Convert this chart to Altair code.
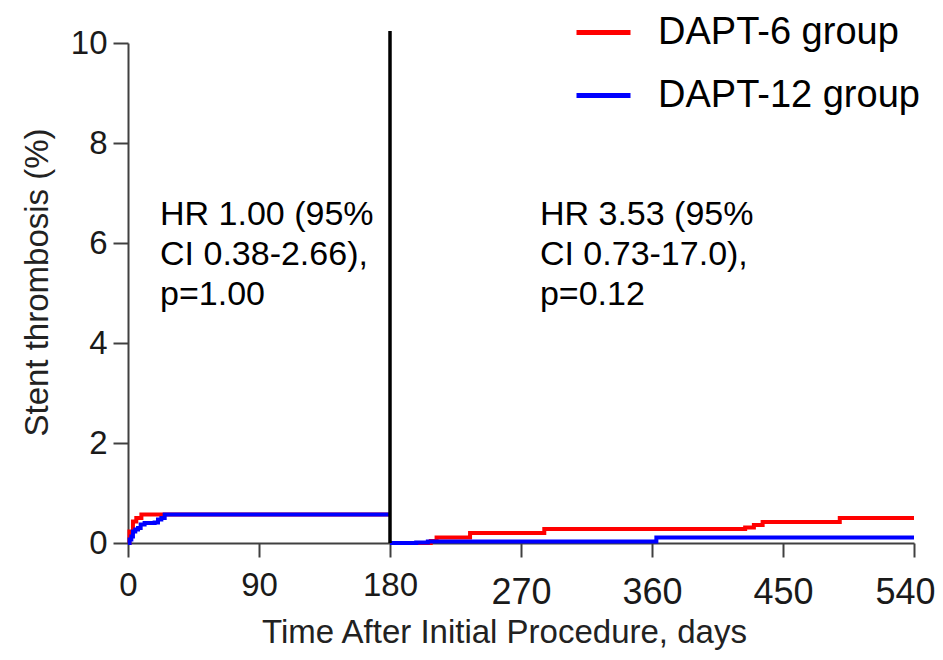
import altair as alt
import pandas as pd

# ---------------- data ----------------
groups = ["DAPT-6 group", "DAPT-12 group"]
colors = ["#ff0000", "#0000ff"]

x_ticks = [0, 90, 180, 270, 360, 450, 540]
y_ticks = [0, 2, 4, 6, 8, 10]

# 0-180 days (landmark segment 1)
red_s1_day = [0, 1, 3.4, 5.7, 9.2, 180]
red_s1_pct = [0, 0.23, 0.43, 0.50, 0.57, 0.57]
blue_s1_day = [0, 1.1, 2.3, 3.4, 5.0, 6.9, 8.7, 11.4, 18.3, 20.6, 22.9, 25.2, 180]
blue_s1_pct = [0, 0.07, 0.13, 0.23, 0.27, 0.30, 0.37, 0.40, 0.41, 0.47, 0.50, 0.57, 0.57]

# 180-540 days (landmark segment 2)
red_s2_day = [180, 208, 212, 235, 286, 424, 430, 436, 489, 540]
red_s2_pct = [0, 0.04, 0.11, 0.20, 0.28, 0.31, 0.36, 0.42, 0.50, 0.50]
blue_s2_day = [180, 198, 206, 363, 540]
blue_s2_pct = [0, 0.01, 0.03, 0.11, 0.11]

landmark_day = [180]
landmark_top = [10.24]

annot_day = [22, 283]
annot_pct = [6.37, 6.37]
annot_text = [
    ["HR 1.00 (95%", "CI 0.38-2.66),", "p=1.00"],
    ["HR 3.53 (95%", "CI 0.73-17.0),", "p=0.12"],
]

# ---------------- tables ----------------
rows = []
for g, seg, days, pcts in [
    (groups[0], "a", red_s1_day, red_s1_pct),
    (groups[0], "b", red_s2_day, red_s2_pct),
    (groups[1], "a", blue_s1_day, blue_s1_pct),
    (groups[1], "b", blue_s2_day, blue_s2_pct),
]:
    for d, p in zip(days, pcts):
        rows.append({"day": d, "pct": p, "group": g, "seg": g + "-" + seg})
df = pd.DataFrame(rows)

rule_df = pd.DataFrame({"day": landmark_day, "pct": [0] * len(landmark_day), "pct_top": landmark_top})
annot_df = pd.DataFrame({"day": annot_day, "pct": annot_pct, "label": annot_text})

FONT = "Liberation Sans, Arial, Helvetica, sans-serif"

x_enc = alt.X(
    "day:Q",
    scale=alt.Scale(domain=[0, 540], nice=False, zero=False),
    axis=alt.Axis(
        values=x_ticks,
        title="Time After Initial Procedure, days",
        labelFontSize={"condition": {"test": "datum.value > 200", "value": 36}, "value": 33},
        labelPadding={"condition": {"test": "datum.value > 200", "value": 18}, "value": 12},
        labelAlign={"condition": {"test": "datum.value > 500", "value": "right"}, "value": "center"},
        labelOffset={"condition": {"test": "datum.value > 500", "value": 21}, "value": 0},
        tickSize=14,
        titleFontSize=33,
        titleFontWeight="normal",
        titleX=376,
        titleY=99,
        titleAlign="center",
        titleBaseline="alphabetic",
    ),
)
y_enc = alt.Y(
    "pct:Q",
    scale=alt.Scale(domain=[0, 10], nice=False),
    axis=alt.Axis(
        values=y_ticks,
        title="Stent thrombosis (%)",
        labelFontSize=33,
        tickSize=15,
        labelPadding=6,
        titleFontSize=33,
        titleFontWeight="normal",
        titleAngle=270,
        titleX=-81,
        titleY=239,
        titleAlign="center",
        titleBaseline="alphabetic",
    ),
)
color_enc = alt.Color(
    "group:N",
    scale=alt.Scale(domain=groups, range=colors),
    legend=alt.Legend(
        title=None,
        orient="none",
        legendX=446,
        legendY=-40,
        symbolType="stroke",
        symbolSize=2916,
        symbolStrokeWidth=5,
        labelFontSize=38,
        labelFont=FONT,
        labelColor="black",
        labelOffset=25,
        labelLimit=500,
        rowPadding=14,
        padding=0,
    ),
)

red = (
    alt.Chart(df[df["group"] == groups[0]])
    .mark_line(interpolate="step-after", strokeWidth=4)
    .encode(x=x_enc, y=y_enc, color=color_enc, detail="seg:N")
)
blue = (
    alt.Chart(df[df["group"] == groups[1]])
    .mark_line(interpolate="step-after", strokeWidth=4)
    .encode(x="day:Q", y="pct:Q", color=alt.Color("group:N"), detail="seg:N")
)
rule = (
    alt.Chart(rule_df)
    .mark_rule(color="black", strokeWidth=3.5)
    .encode(x="day:Q", y="pct:Q", y2="pct_top:Q")
)
text = (
    alt.Chart(annot_df)
    .mark_text(align="left", baseline="alphabetic", fontSize=34, lineHeight=40, font=FONT, color="black")
    .encode(x="day:Q", y="pct:Q", text="label")
)

chart = (
    alt.layer(red, blue, rule, text)
    .properties(
        width=786,
        height=500,
        autosize=alt.AutoSizeParams(type="none"),
        padding={"left": 120, "top": 35, "right": 21, "bottom": 109},
    )
    .configure_view(stroke=None)
    .configure_axis(
        grid=False,
        domainColor="#404040",
        domainWidth=2,
        tickColor="#404040",
        tickWidth=2,
        labelFont=FONT,
        titleFont=FONT,
        labelColor="#1a1a1a",
        titleColor="#222222",
    )
)

chart.save("out.html", embed_options={"renderer": "svg", "actions": False})
